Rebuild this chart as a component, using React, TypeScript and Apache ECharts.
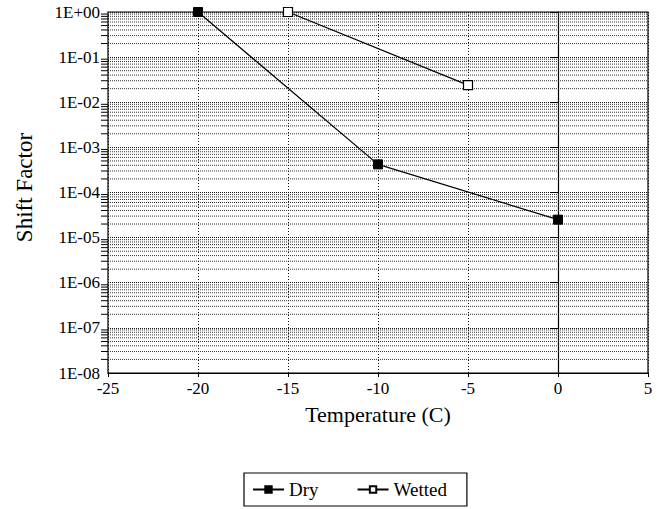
import React, { useEffect, useRef } from "react";
import * as echarts from "echarts";

const dryX = [-20, -10, 0];
const dryY = [1, 4.2e-4, 2.5e-5];
const wettedX = [-15, -5];
const wettedY = [1, 2.4e-2];
const decadeExponents = [-8, -7, -6, -5, -4, -3, -2, -1];
const minorMultipliers = [2, 3, 4, 5, 6, 7, 8, 9];

const FONT = "Liberation Serif";

function fmtLog(v: number): string {
  const e = Math.round(Math.log10(v));
  const a = Math.abs(e);
  const s = a < 10 ? "0" + a : String(a);
  return "1E" + (e >= 0 ? "+" : "-") + s;
}

export default function App() {
  const ref = useRef<HTMLDivElement>(null);
  useEffect(() => {
    if (!ref.current) return;
    const chart = echarts.init(ref.current, null, { renderer: "svg" });
    const minorVals: number[][] = [];
    decadeExponents.forEach((e) => {
      minorMultipliers.forEach((m) => {
        minorVals.push([-25, m * Math.pow(10, e)]);
      });
    });
    chart.setOption({
      animation: false,
      backgroundColor: "#fff",
      grid: {
        left: 108,
        right: 11,
        top: 12,
        bottom: 136,
        show: true,
        borderColor: "#000",
        borderWidth: 1.2,
      },
      legend: {
        left: 244,
        top: 473,
        orient: "horizontal",
        borderColor: "#000",
        borderWidth: 1.2,
        padding: [7, 20, 7, 8],
        itemWidth: 31,
        itemHeight: 8,
        itemGap: 38,
        textStyle: { fontFamily: FONT, fontSize: 19, color: "#000" },
        data: ["Dry", "Wetted"],
      },
      xAxis: {
        type: "value",
        min: -25,
        max: 5,
        interval: 5,
        name: "Temperature (C)",
        nameLocation: "middle",
        nameGap: 30,
        nameTextStyle: { fontFamily: FONT, fontSize: 22, color: "#000" },
        axisLine: { show: true, onZero: false, lineStyle: { color: "#000", width: 1.2 } },
        axisTick: { show: true, inside: false, length: 4, lineStyle: { color: "#000" } },
        axisLabel: { show: true, fontFamily: FONT, fontSize: 17, color: "#000", margin: 7 },
        splitLine: { show: true, lineStyle: { color: "#111", type: [1, 2], width: 1 } },
      },
      yAxis: {
        type: "log",
        logBase: 10,
        min: 1e-8,
        max: 1,
        name: "Shift Factor",
        nameLocation: "middle",
        nameGap: 72,
        nameTextStyle: { fontFamily: FONT, fontSize: 23, color: "#000", padding: [0, 0, 0, 10] },
        axisLine: { show: true, lineStyle: { color: "#000", width: 1.2 } },
        axisTick: { show: true, inside: false, length: 8, lineStyle: { color: "#000" } },
        axisLabel: {
          show: true,
          fontFamily: FONT,
          fontSize: 17,
          color: "#000",
          margin: 8,
          formatter: (v: number) => fmtLog(v),
        },
        splitLine: { show: true, lineStyle: { color: "#111", type: [1, 1], width: 1 } },
      },
      series: [
        {
          type: "custom",
          name: "minor",
          silent: true,
          clip: false,
          data: minorVals,
          encode: { x: 0, y: 1 },
          z: 1,
          renderItem: (params: any, api: any) => {
            const v = api.value(1);
            const p0 = api.coord([-25, v]);
            const p1 = api.coord([5, v]);
            return {
              type: "group",
              children: [
                {
                  type: "line",
                  shape: { x1: p0[0], y1: p0[1], x2: p1[0], y2: p1[1] },
                  style: { stroke: "#333", lineWidth: 1, lineDash: [1, 1] },
                },
                {
                  type: "line",
                  shape: { x1: p0[0] - 7, y1: p0[1], x2: p0[0], y2: p0[1] },
                  style: { stroke: "#000", lineWidth: 1 },
                },
              ],
            };
          },
        },
        {
          type: "line",
          name: "Dry",
          data: dryX.map((x, i) => [x, dryY[i]]),
          symbol: "rect",
          symbolSize: 9,
          clip: false,
          z: 5,
          lineStyle: { color: "#000", width: 1.3 },
          itemStyle: { color: "#000", borderColor: "#000", borderWidth: 1 },
        },
        {
          type: "line",
          name: "Wetted",
          data: wettedX.map((x, i) => [x, wettedY[i]]),
          symbol: "rect",
          symbolSize: 9,
          clip: false,
          z: 5,
          lineStyle: { color: "#000", width: 1.3 },
          itemStyle: { color: "#fff", borderColor: "#000", borderWidth: 1.2 },
        },
      ],
    });
    return () => chart.dispose();
  }, []);
  return <div ref={ref} style={{ width: 659, height: 509, position: "absolute", left: 0, top: 0 }} />;
}
